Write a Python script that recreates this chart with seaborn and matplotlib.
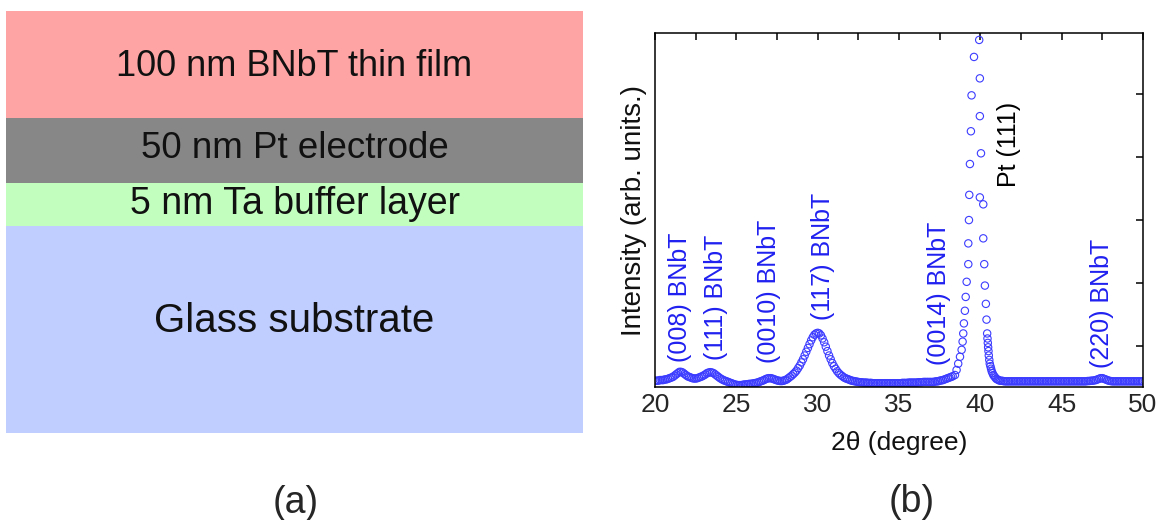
import numpy as np
import pandas as pd
import seaborn as sns
import matplotlib.pyplot as plt
from matplotlib.ticker import MultipleLocator, NullFormatter

# (a) layer stack, top to bottom
layer_labels = ["100 nm BNbT thin film", "50 nm Pt electrode",
                "5 nm Ta buffer layer", "Glass substrate"]

# (b) XRD scan, intensity in arb. units (one unit = one y tick)
scan_low_start, scan_low_stop = 20.0, 38.3
intensity_low = [
    0.45, 0.45, 0.45, 0.46, 0.46, 0.46, 0.47, 0.47, 0.48, 0.49,
    0.50, 0.51, 0.53, 0.55, 0.57, 0.59, 0.59, 0.58, 0.56, 0.54,
    0.52, 0.51, 0.50, 0.49, 0.485, 0.485, 0.49, 0.50, 0.51, 0.52,
    0.535, 0.55, 0.57, 0.58, 0.585, 0.58, 0.57, 0.55, 0.53, 0.51,
    0.49, 0.475, 0.46, 0.45, 0.44, 0.43, 0.42, 0.41, 0.40, 0.39,
    0.385, 0.38, 0.38, 0.38, 0.385, 0.39, 0.39, 0.395, 0.40, 0.40,
    0.405, 0.41, 0.415, 0.42, 0.43, 0.44, 0.45, 0.46, 0.475, 0.485,
    0.49, 0.49, 0.485, 0.475, 0.465, 0.455, 0.45, 0.445, 0.445, 0.45,
    0.46, 0.47, 0.49, 0.51, 0.53, 0.555, 0.58, 0.61, 0.65, 0.69,
    0.74, 0.79, 0.85, 0.91, 0.97, 1.03, 1.09, 1.14, 1.18, 1.20,
    1.21, 1.20, 1.17, 1.12, 1.06, 0.99, 0.92, 0.85, 0.79, 0.73,
    0.68, 0.64, 0.60, 0.57, 0.545, 0.525, 0.505, 0.49, 0.48, 0.47,
    0.46, 0.45, 0.445, 0.44, 0.435, 0.43, 0.425, 0.425, 0.42, 0.42,
    0.42, 0.415, 0.415, 0.415, 0.41, 0.41, 0.41, 0.41, 0.41, 0.41,
    0.41, 0.41, 0.41, 0.41, 0.41, 0.41, 0.41, 0.41, 0.41, 0.41,
    0.41, 0.41, 0.415, 0.415, 0.415, 0.415, 0.42, 0.42, 0.42, 0.42,
    0.42, 0.42, 0.425, 0.425, 0.425, 0.43, 0.43, 0.43, 0.43, 0.43,
    0.43, 0.43, 0.435, 0.44, 0.44, 0.45, 0.455, 0.46, 0.47, 0.48,
    0.49, 0.50, 0.51, 0.52,
]

# Pt (111) region, read point by point
pt_two_theta = [
    38.44, 38.54, 38.64, 38.75, 38.85, 38.91, 38.95, 38.99, 39.05, 39.10,
    39.16, 39.26, 39.26, 39.30, 39.32, 39.36, 39.42, 39.46, 39.61, 39.93,
    39.97, 39.97, 40.04, 39.97, 40.18, 40.18, 40.24, 40.28, 40.34, 40.38,
    40.42, 40.44, 40.46, 40.48, 40.50, 40.52, 40.55, 40.58, 40.62, 40.66,
    40.70, 40.75, 40.80, 40.86, 40.92, 40.98, 41.05, 41.12, 41.20,
]
pt_intensity = [
    0.54, 0.62, 0.72, 0.83, 0.94, 1.07, 1.20, 1.36, 1.56, 1.78,
    2.02, 2.30, 2.63, 3.00, 3.40, 3.89, 4.41, 4.98, 5.59, 5.86,
    5.25, 4.65, 4.06, 3.36, 3.25, 2.71, 2.30, 1.96, 1.67, 1.42,
    1.20, 1.12, 1.05, 0.98, 0.92, 0.85, 0.78, 0.72, 0.68, 0.64,
    0.60, 0.57, 0.54, 0.52, 0.50, 0.48, 0.47, 0.46, 0.45,
]

scan_high_start, scan_high_stop = 41.3, 50.0
intensity_high = [
    0.45, 0.445, 0.44, 0.44, 0.44, 0.44, 0.44,
    0.44, 0.44, 0.44, 0.44, 0.44, 0.44, 0.44, 0.44, 0.44, 0.44,
    0.44, 0.44, 0.44, 0.44, 0.44, 0.44, 0.44, 0.44, 0.44, 0.44,
    0.44, 0.44, 0.44, 0.44, 0.44, 0.44, 0.44, 0.44, 0.44, 0.44,
    0.44, 0.44, 0.44, 0.44, 0.44, 0.44, 0.44, 0.44, 0.44, 0.44,
    0.44, 0.44, 0.44, 0.44, 0.44, 0.44, 0.445, 0.445, 0.45, 0.45,
    0.455, 0.46, 0.47, 0.48, 0.49, 0.49, 0.48, 0.47, 0.46, 0.45,
    0.445, 0.44, 0.44, 0.44, 0.44, 0.44, 0.44, 0.44, 0.44, 0.44,
    0.44, 0.44, 0.44, 0.44, 0.44, 0.44, 0.44, 0.44, 0.44, 0.44,
    0.44,
]

peak_labels = ["(008) BNbT", "(111) BNbT", "(0010) BNbT", "(117) BNbT",
               "(0014) BNbT", "Pt (111)", "(220) BNbT"]
peak_label_2theta = [21.54, 23.74, 27.03, 30.33, 37.47, 41.76, 47.47]
peak_label_base = [0.75, 0.78, 0.73, 1.41, 0.70, 3.52, 0.65]

# ---- styling / layout ----
W, H = 1162, 520
layer_px = [107, 65, 43, 207]
layer_nudge = [2, -2, 0, -8]
layer_fontsize = [26, 26.5, 27, 29]
layer_colors = ["#ffa4a4", "#878787", "#c2ffbe", "#bfcdff"]
marker_blue = "#3c3cff"
text_blue = "#2020f0"

sns.set_theme(style="white")
plt.rcParams["font.family"] = ["Liberation Sans", "DejaVu Sans"]

fig = plt.figure(figsize=(W / 100, H / 100), dpi=100)

# (a) schematic of the stack
ax_l = fig.add_axes([6 / W, (H - 433) / H, 577 / W, 422 / H])
top = 0
for label, h, c, dy, fs in zip(layer_labels, layer_px, layer_colors,
                               layer_nudge, layer_fontsize):
    ax_l.bar(0, h, bottom=top, width=1.0, color=c, linewidth=0)
    ax_l.text(0, top + h / 2 + dy, label, ha="center", va="center",
              fontsize=fs, color="#111111")
    top += h
ax_l.set_xlim(-0.5, 0.5)
ax_l.set_ylim(sum(layer_px), 0)
ax_l.axis("off")

# (b) XRD pattern
two_theta_low = np.round(np.arange(scan_low_start, scan_low_stop + 0.05, 0.1), 2)
two_theta_high = np.round(np.arange(scan_high_start, scan_high_stop + 0.05, 0.1), 2)
xrd = pd.DataFrame({
    "two_theta": np.concatenate([two_theta_low, pt_two_theta, two_theta_high]),
    "intensity": np.concatenate([intensity_low, pt_intensity, intensity_high]),
})

ax = fig.add_axes([655 / W, (H - 387) / H, 488 / W, 354 / H])
sns.scatterplot(data=xrd, x="two_theta", y="intensity", marker="o", s=28,
                facecolors="none", edgecolors=marker_blue, linewidth=0.8,
                legend=False, ax=ax)

for lab, x, y in zip(peak_labels, peak_label_2theta, peak_label_base):
    col = "black" if lab.startswith("Pt") else text_blue
    ax.text(x, y, lab, rotation=90, ha="center", va="bottom",
            fontsize=18, color=col)

ax.set_xlim(20, 50)
ax.set_ylim(0.35, 5.97)
ax.xaxis.set_major_locator(MultipleLocator(5))
ax.xaxis.set_minor_locator(MultipleLocator(2.5))
ax.yaxis.set_major_locator(MultipleLocator(1))
ax.yaxis.set_major_formatter(NullFormatter())
ax.tick_params(which="both", direction="in", top=True, right=True,
               length=5, width=1.1, color="black", labelsize=19, pad=4)
for sp in ax.spines.values():
    sp.set_color("black")
    sp.set_linewidth(1.1)

ax.set_xlabel("2\u03b8 (degree)", fontsize=19, color="#111111")
ax.set_ylabel("Intensity (arb. units.)", fontsize=20, color="#111111")
ax.xaxis.set_label_coords(0.5, -0.125)
ax.yaxis.set_label_coords(-0.017, 0.5)

fig.text(296 / W, 1 - 503 / H, "(a)", ha="center", va="center", fontsize=27)
fig.text(912 / W, 1 - 502 / H, "(b)", ha="center", va="center", fontsize=27)

fig.savefig("out.png", dpi=100)
